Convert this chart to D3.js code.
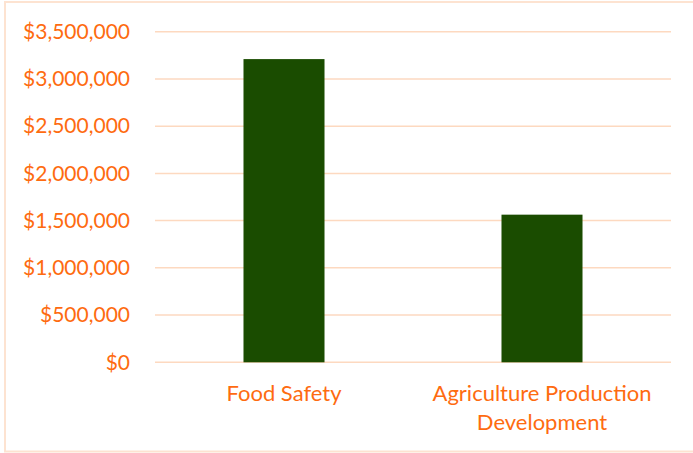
<!DOCTYPE html>
<html>
<head>
<meta charset="utf-8">
<script src="https://cdn.jsdelivr.net/npm/d3@7"></script>
<style>
  body { margin: 0; background: #fff; }
  svg { display: block; }
</style>
</head>
<body>
<svg id="chart" width="693" height="453"></svg>
<script>
// data
var categories = ["Food Safety", "Agriculture Production Development"];
var amounts = [3210000, 1563000];
var tickValues = [0, 500000, 1000000, 1500000, 2000000, 2500000, 3000000, 3500000];
var labelLines = [["Food Safety"], ["Agriculture Production", "Development"]];

var W = 693, H = 453;
var margin = { top: 31.7, right: 22, bottom: 90.7, left: 155 };
var orange = "#fe6b10";
var grid = "#fdd9c0";
var barColor = "#1a4c00";
var font = "Lato, 'Open Sans', sans-serif";

var svg = d3.select("#chart");

// outer frame
svg.append("rect")
    .attr("x", 5).attr("y", 2)
    .attr("width", W + 10).attr("height", H - 3.5)
    .attr("fill", "none")
    .attr("stroke", "#fde3d1")
    .attr("stroke-width", 2);

var x = d3.scaleBand()
    .domain(categories)
    .range([margin.left, W - margin.right])
    .paddingInner(0.686)
    .paddingOuter(0.343);

var y = d3.scaleLinear()
    .domain([0, 3500000])
    .range([H - margin.bottom, margin.top]);

// gridlines
svg.append("g")
    .selectAll("line")
    .data(tickValues)
    .enter().append("line")
    .attr("x1", margin.left)
    .attr("x2", W - margin.right)
    .attr("y1", function(d) { return y(d); })
    .attr("y2", function(d) { return y(d); })
    .attr("stroke", grid)
    .attr("stroke-width", 1.5);

// y axis labels
var fmt = d3.format("$,.0f");
var yAxis = d3.axisLeft(y).tickValues(tickValues).tickFormat(fmt).tickSize(0).tickPadding(25);
var ya = svg.append("g")
    .attr("transform", "translate(" + margin.left + ",0)")
    .call(yAxis);
ya.select(".domain").remove();
ya.selectAll("text")
    .attr("fill", orange)
    .style("font-family", font)
    .style("font-size", "21px");

// bars
svg.append("g")
    .selectAll("rect")
    .data(amounts)
    .enter().append("rect")
    .attr("x", function(d, i) { return x(categories[i]); })
    .attr("y", function(d) { return y(d); })
    .attr("width", x.bandwidth())
    .attr("height", function(d) { return y(0) - y(d); })
    .attr("fill", barColor);

// category labels
var cat = svg.append("g")
    .selectAll("text")
    .data(labelLines)
    .enter().append("text")
    .attr("text-anchor", "middle")
    .attr("fill", orange)
    .style("font-family", font)
    .style("font-size", "22px");
cat.each(function(lines, i) {
    var t = d3.select(this);
    var cx = x(categories[i]) + x.bandwidth() / 2;
    lines.forEach(function(s, j) {
        t.append("tspan")
            .attr("x", cx)
            .attr("y", y(0) + 39 + j * 29)
            .text(s);
    });
});
</script>
</body>
</html>
